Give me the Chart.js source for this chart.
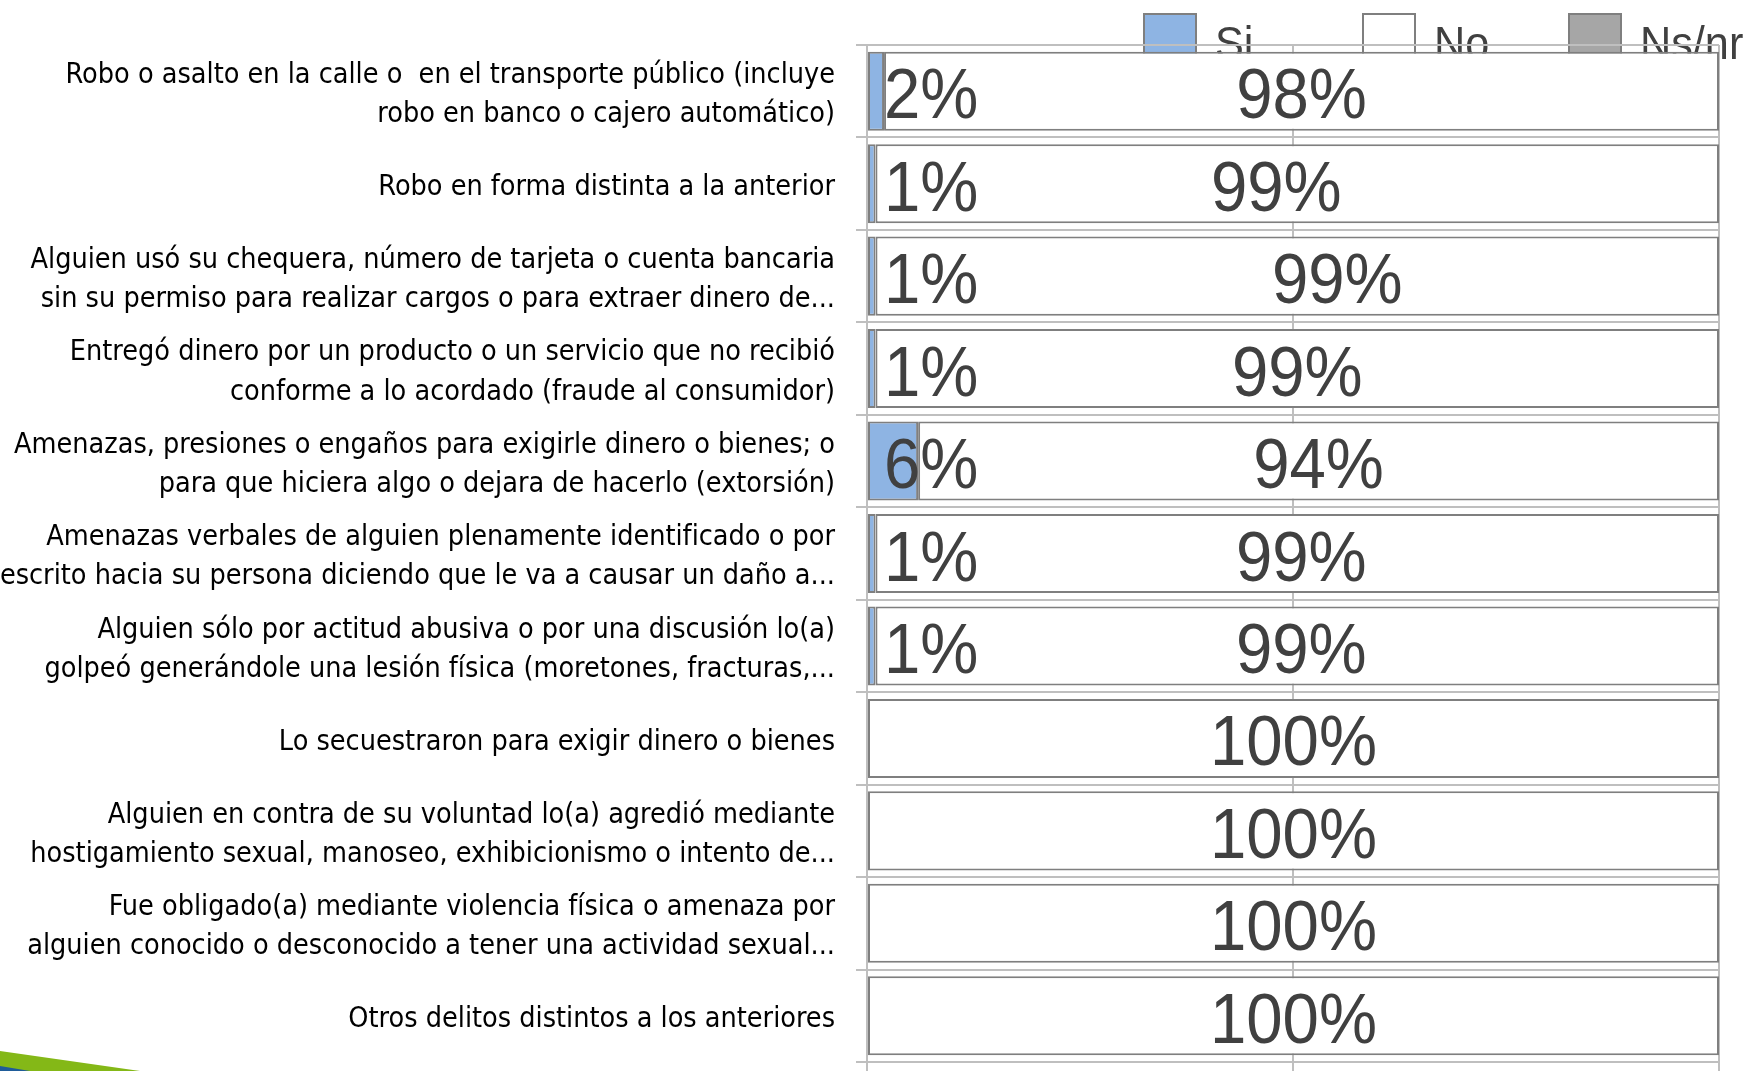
<!DOCTYPE html>
<html lang="es">
<head>
<meta charset="utf-8">
<title>Incidencia delictiva</title>
<script src="https://cdn.jsdelivr.net/npm/chart.js@4.4.1/dist/chart.umd.min.js"></script>
<style>
  html, body { margin: 0; padding: 0; background: #fff; overflow: hidden; }
  #wrap { position: relative; width: 1750px; height: 1071px; }
  canvas { display: block; }
  /* slide template corner ribbon */
  .ribbon { position: absolute; left: 0; bottom: 0; width: 140px; height: 20px; }
  .ribbon.green { background: #84b817; clip-path: polygon(0 0, 100% 100%, 0 100%); }
  .ribbon.blue { width: 30px; height: 5px; background: #1f5c99; clip-path: polygon(0 0, 100% 100%, 0 100%); }
</style>
</head>
<body>
<div id="wrap">
  <canvas id="chart" width="1750" height="1071"></canvas>
  <div class="ribbon green"></div>
  <div class="ribbon blue"></div>
</div>
<script>
// Delitos consultados (una fila por delito)
const categories = [
  ['Robo o asalto en la calle o  en el transporte público (incluye', 'robo en banco o cajero automático)'],
  'Robo en forma distinta a la anterior',
  ['Alguien usó su chequera, número de tarjeta o cuenta bancaria', 'sin su permiso para realizar cargos o para extraer dinero de...'],
  ['Entregó dinero por un producto o un servicio que no recibió', 'conforme a lo acordado (fraude al consumidor)'],
  ['Amenazas, presiones o engaños para exigirle dinero o bienes; o', 'para que hiciera algo o dejara de hacerlo (extorsión)'],
  ['Amenazas verbales de alguien plenamente identificado o por', 'escrito hacia su persona diciendo que le va a causar un daño a...'],
  ['Alguien sólo por actitud abusiva o por una discusión lo(a)', 'golpeó generándole una lesión física (moretones, fracturas,...'],
  'Lo secuestraron para exigir dinero o bienes',
  ['Alguien en contra de su voluntad lo(a) agredió mediante', 'hostigamiento sexual, manoseo, exhibicionismo o intento de...'],
  ['Fue obligado(a) mediante violencia física o amenaza por', 'alguien conocido o desconocido a tener una actividad sexual...'],
  'Otros delitos distintos a los anteriores'
];

const seriesNames = ['Si', 'No', 'Ns/nr'];
const siValues   = [2, 1, 1, 1, 6, 1, 1, 0, 0, 0, 0];
const noValues   = [98, 99, 99, 99, 94, 99, 99, 100, 100, 100, 100];
const nsnrValues = [0, 0, 0, 0, 0, 0, 0, 0, 0, 0, 0];
const xTickValues = [0, 50, 100];

// Styling
const LABEL_FAMILY = '"DejaVu Sans Condensed", "DejaVu Sans", sans-serif';
const VALUE_FAMILY = '"Liberation Sans", Arial, sans-serif';
const NARROW_SCALE = 0.92;   // horizontal squeeze giving a narrow face
const fills = ['#8eb4e3', '#ffffff', '#a6a6a6'];
const edge = '#7f7f7f';
const gridGray = '#bfbfbf';
const textGray = '#404040';
const legendItemX = [1143, 1362, 1568];
// hand-placed nudges of the "No" value labels, in pixels
const noLabelNudge = [0, -21, 40, 0, 0, 4, 4, 0, 0, 0, 0];

function narrowText(ctx, text, x, y, align) {
  ctx.save();
  ctx.translate(x, y);
  ctx.scale(NARROW_SCALE, 1);
  ctx.textAlign = align;
  ctx.fillText(text, 0, 0);
  ctx.restore();
}

// Legend drawn first so the grid and the bars sit on top of it
const topLegend = {
  id: 'topLegend',
  beforeDraw(chart) {
    const ctx = chart.ctx;
    ctx.save();
    ctx.font = '47px ' + VALUE_FAMILY;
    ctx.textBaseline = 'alphabetic';
    chart.data.datasets.forEach((ds, i) => {
      const x = legendItemX[i];
      ctx.fillStyle = ds.backgroundColor;
      ctx.fillRect(x, 13, 54, 50);
      ctx.strokeStyle = edge;
      ctx.lineWidth = 2;
      ctx.strokeRect(x + 1, 14, 52, 50);
      ctx.fillStyle = textGray;
      narrowText(ctx, ds.label, x + 72, 59, 'left');
    });
    ctx.restore();
  }
};

// Percent labels on the bars
const valueLabels = {
  id: 'valueLabels',
  afterDatasetsDraw(chart) {
    const ctx = chart.ctx;
    const xs = chart.scales.x;
    ctx.save();
    ctx.font = '71px ' + VALUE_FAMILY;
    ctx.fillStyle = textGray;
    ctx.textBaseline = 'alphabetic';
    chart.data.datasets.forEach((ds, di) => {
      const meta = chart.getDatasetMeta(di);
      meta.data.forEach((bar, i) => {
        const v = ds.data[i];
        if (!v) return;
        const y = bar.y + 27;
        if (di === 0) {
          narrowText(ctx, v + '%', xs.getPixelForValue(0) + 17, y, 'left');
        } else {
          const cx = (bar.base + bar.x) / 2 + (di === 1 ? noLabelNudge[i] : 0);
          narrowText(ctx, v + '%', cx, y, 'center');
        }
      });
    });
    ctx.restore();
  }
};

const datasets = [siValues, noValues, nsnrValues].map((vals, i) => ({
  label: seriesNames[i],
  data: vals,
  backgroundColor: fills[i],
  borderColor: edge,
  borderWidth: 2,
  borderSkipped: false,
  categoryPercentage: 1,
  barPercentage: 0.855
}));

new Chart(document.getElementById('chart'), {
  type: 'bar',
  data: { labels: categories, datasets },
  options: {
    indexAxis: 'y',
    responsive: false,
    animation: false,
    devicePixelRatio: 1,
    layout: { padding: { top: 45, right: 31, bottom: 0, left: 0 } },
    plugins: {
      legend: { display: false },
      tooltip: { enabled: false }
    },
    scales: {
      x: {
        stacked: true,
        min: 0,
        max: 100,
        afterBuildTicks(scale) { scale.ticks = xTickValues.map(v => ({ value: v })); },
        afterFit(scale) { scale.height = 9; },
        ticks: { display: false },
        grid: { color: gridGray, lineWidth: 2, tickLength: 10 },
        border: { color: gridGray, width: 2 }
      },
      y: {
        stacked: true,
        afterFit(scale) {
          scale.width = 867;
          scale.paddingTop = 0;
          scale.paddingBottom = 0;
        },
        ticks: {
          color: '#000',
          padding: 21,
          labelOffset: 4,
          autoSkip: false,
          font: { family: LABEL_FAMILY, size: 28.5, lineHeight: 1.37 }
        },
        grid: { color: gridGray, lineWidth: 2, tickLength: 11, offset: true },
        border: { color: gridGray, width: 2 }
      }
    }
  },
  plugins: [topLegend, valueLabels]
});
</script>
</body>
</html>
